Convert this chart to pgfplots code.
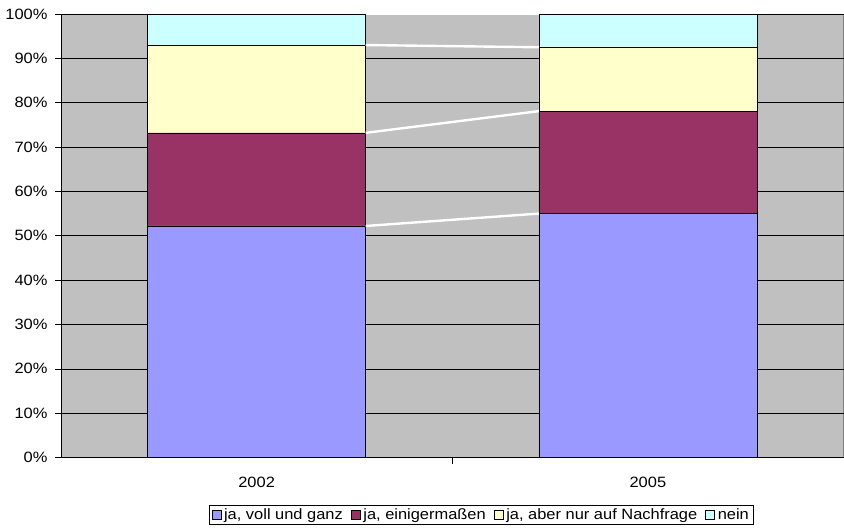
\documentclass[border=0pt]{standalone}
\usepackage{fontspec}
\setmainfont{Liberation Sans}[FakeStretch=1.1]
\usepackage{pgfplots}
\pgfplotsset{compat=1.18}
\definecolor{cBlue}{RGB}{153,153,255}
\definecolor{cPlum}{RGB}{153,51,102}
\definecolor{cCream}{RGB}{255,255,204}
\definecolor{cCyan}{RGB}{204,255,255}
\definecolor{cBack}{RGB}{192,192,192}

\begin{document}
\begin{tikzpicture}
\pgfplotsset{
  basestyle/.style={
    scale only axis,
    width=782.5bp, height=443.5bp,
    xmin=-0.5, xmax=1.5,
    ymin=0, ymax=100,
  },
}
\begin{axis}[
  basestyle,
  ybar stacked,
  bar width=0.557,
  axis background/.style={fill=cBack, draw=gray},
  axis x line*=bottom,
  axis y line*=left,
  axis line style={black, line width=0.8pt},
  ytick={0,10,...,100},
  yticklabel={\pgfmathprintnumber{\tick}\%},
  ymajorgrids=true,
  grid style={black, line width=0.6pt},
  tick align=outside,
  major tick length=6bp,
  tick style={black, line width=0.6pt},
  xtick={0.5},
  xticklabels={},
  extra x ticks={0,1},
  extra x tick labels={2002,2005},
  extra x tick style={major tick length=0bp, grid=none},
  /pgf/number format/assume math mode=true,
  ticklabel style={font=\fontsize{15}{17}\selectfont},
  yticklabel style={xshift=-4bp},
  xticklabel style={yshift=-16bp},
  legend style={
    at={(0.537,-0.108)}, anchor=north,
    legend columns=4,
    draw=black, line width=0.6pt,
    font=\fontsize{15}{17}\selectfont,
    inner xsep=2bp, inner ysep=1bp,
    /tikz/every odd column/.append style={column sep=1bp},
    /tikz/every even column/.append style={column sep=6bp},
  },
  legend image code/.code={\draw[#1, draw=black, line width=0.5pt] (0bp,-4.5bp) rectangle (9bp,4.5bp);},
  legend cell align=left,
]
\addplot[fill=cBlue, draw=black, line width=0.6pt] coordinates {(0,52.2) (1,55.0)};
\addplot[fill=cPlum, draw=black, line width=0.6pt] coordinates {(0,21.0) (1,23.1)};
\addplot[fill=cCream, draw=black, line width=0.6pt] coordinates {(0,19.8) (1,14.5)};
\addplot[fill=cCyan, draw=black, line width=0.6pt] coordinates {(0,7.0) (1,7.4)};
\legend{{ja, voll und ganz}, {ja, einigermaßen}, {ja, aber nur auf Nachfrage}, nein}
\end{axis}
\begin{axis}[
  basestyle,
  hide axis,
]
% series lines between the bars
\addplot[white, line width=2.4pt] coordinates {(0.2785,52.2) (0.7215,55.0)};
\addplot[white, line width=2.4pt] coordinates {(0.2785,73.2) (0.7215,78.1)};
\addplot[white, line width=2.4pt] coordinates {(0.2785,93.0) (0.7215,92.5)};
\addplot[white, line width=2.4pt] coordinates {(0.2785,100) (0.7215,100)};
\path (current axis.south west) ++(-61bp,-73.5bp) coordinate (bbA);
\path (current axis.north east) ++(0.5bp,14bp) coordinate (bbB);
\end{axis}
\useasboundingbox (bbA) rectangle (bbB);
\end{tikzpicture}
\end{document}
